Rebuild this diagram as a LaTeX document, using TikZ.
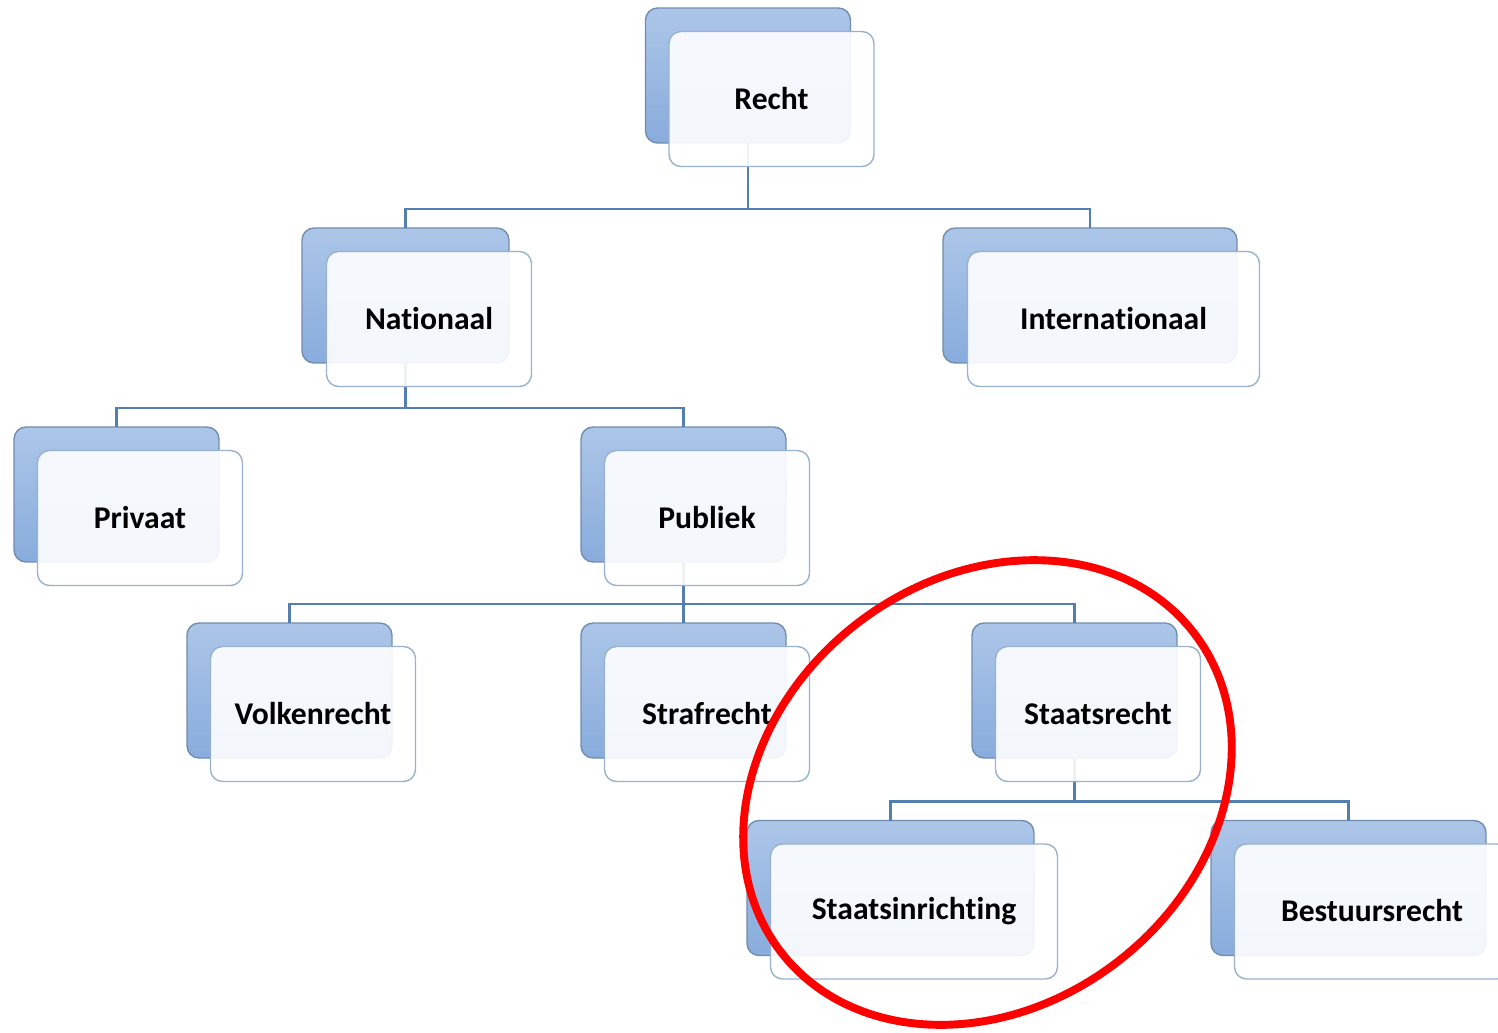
\documentclass[tikz,border=0pt]{standalone}
\usepackage{fontspec}
\setmainfont{Carlito}[Ligatures=NoCommon]
\usetikzlibrary{calc, positioning}

\definecolor{boxtop}{RGB}{172,198,232}
\definecolor{boxbot}{RGB}{136,172,220}
\definecolor{boxline}{RGB}{112,140,176}
\definecolor{cardline}{RGB}{152,178,206}
\definecolor{linkblue}{RGB}{84,126,178}

\begin{document}
\begin{tikzpicture}[x = 0.02cm, y = -0.02cm,
	back/.style = {draw=boxline, line width=0.8pt, rounded corners=2.4mm,
		top color=boxtop, bottom color=boxbot, minimum height=2.7cm, outer sep=0pt},
	front/.style = {draw=cardline, line width=0.8pt, rounded corners=2.4mm,
		fill=white, fill opacity=0.9, text opacity=1, minimum height=2.7cm,
		outer sep=0pt, font=\bfseries\fontsize{18}{21}\selectfont},
	link/.style = {draw=linkblue, line width=1.5pt},
	ring/.style = {draw=red, line width=4.5pt}]

	\useasboundingbox (0,0) rectangle (1498,1032);

	% back cards
	\foreach \nm/\x/\y/\w in {recht/748/75.5/4.1cm, nationaal/405.5/295.5/4.14cm,
		internationaal/1090/295.5/5.88cm, privaat/116.5/494.5/4.1cm,
		publiek/683.5/494.5/4.1cm, volkenrecht/289.5/690.5/4.1cm,
		strafrecht/683.5/690.5/4.1cm, staatsrecht/1074.5/690.5/4.1cm,
		staatsinrichting/890.5/888/5.74cm, bestuursrecht/1348.5/888/5.5cm}
		\node[back, minimum width=\w] (\nm) at (\x,\y) {};

	% tree lines
	\foreach \up/\down in {recht/nationaal, recht/internationaal,
		nationaal/privaat, nationaal/publiek, publiek/volkenrecht,
		publiek/strafrecht, publiek/staatsrecht, staatsrecht/staatsinrichting,
		staatsrecht/bestuursrecht}
		\draw[link] (\down.north) -- ++(0,-19) -| (\up.south);

	% front cards
	\foreach \nm/\w/\txt in {recht/4.1cm/Recht, nationaal/4.1cm/Nationaal,
		internationaal/5.84cm/Internationaal, privaat/4.1cm/Privaat,
		publiek/4.1cm/Publiek, volkenrecht/4.1cm/Volkenrecht,
		strafrecht/4.1cm/Strafrecht, staatsrecht/4.1cm/Staatsrecht,
		staatsinrichting/5.74cm/Staatsinrichting, bestuursrecht/5.5cm/Bestuursrecht}
		\node[front, minimum width=\w] (\nm-f) at ([shift={(23.5,23.5)}]\nm) {\raisebox{1.2pt}{\txt}};

	\coordinate (mark) at (987.5,792.5);
	\draw[ring, rotate around={37.7:(mark)}] (mark) ellipse [x radius=5.22cm, y radius=4.27cm];

\end{tikzpicture}
\end{document}
